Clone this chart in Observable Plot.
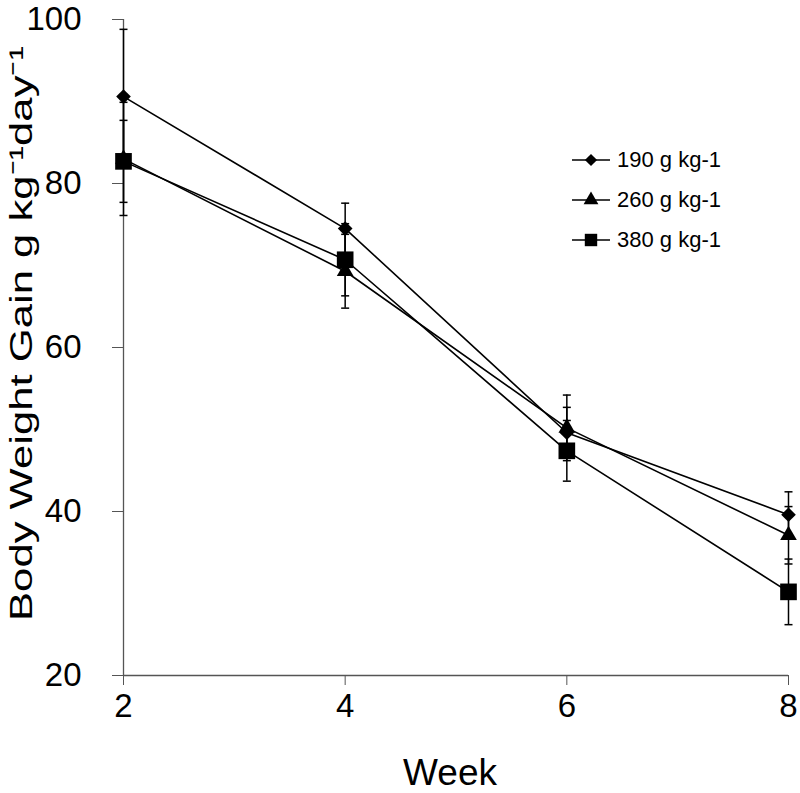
<!DOCTYPE html>
<html>
<head>
<meta charset="utf-8">
<script src="https://cdn.jsdelivr.net/npm/d3@7"></script>
<script src="https://cdn.jsdelivr.net/npm/@observablehq/plot@0.6"></script>
<style>
  html, body { margin: 0; padding: 0; background: #fff; }
  #wrap { position: relative; width: 800px; height: 793px; font-family: "Liberation Sans", Arial, sans-serif; }
  #legend { position: absolute; left: 571px; top: 140px; font-size: 22px; color: #000; }
  #legend .row { display: flex; align-items: center; height: 40px; }
  #legend svg { margin-right: 6px; }
</style>
</head>
<body>
<div id="wrap"></div>
<script>
// ---- data ----
const weeks = [2, 4, 6, 8];
const seriesNames = ["190 g kg-1", "260 g kg-1", "380 g kg-1"];
const g190 = [90.6, 74.5, 49.6, 39.6];
const g190Err = [8.2, 3.1, 3.1, 2.8];
const g260 = [83.0, 69.3, 50.2, 37.1];
const g260Err = [6.9, 4.5, 4.0, 3.5];
const g380 = [82.7, 70.7, 47.4, 30.2];
const g380Err = [5.0, 4.4, 3.7, 4.0];
const xTicks = [2, 4, 6, 8];
const yTicks = [20, 40, 60, 80, 100];
const xTitle = "Week";
const yTitle = "Body Weight Gain g kg⁻¹day⁻¹";

const symbols = {"190 g kg-1": "diamond2", "260 g kg-1": "triangle", "380 g kg-1": "square"};
const radii = {"190 g kg-1": 6.6, "260 g kg-1": 6.2, "380 g kg-1": 9.4};

const values = [g190, g260, g380];
const errs = [g190Err, g260Err, g380Err];
const rows = seriesNames.flatMap((s, k) => weeks.map((w, i) => ({
  series: s, week: w, value: values[k][i], err: errs[k][i],
  lo: values[k][i] - errs[k][i], hi: values[k][i] + errs[k][i]
})));

// horizontal cap symbol for error bars
const capSymbol = {
  draw(ctx, size) {
    const w = Math.sqrt(size / Math.PI);
    ctx.moveTo(-w, 0); ctx.lineTo(w, 0);
  }
};

const font = "Liberation Sans, Arial, sans-serif";

const chart = Plot.plot({
  width: 800,
  height: 793,
  marginLeft: 123,
  marginTop: 19,
  marginBottom: 118,
  marginRight: 12,
  style: { fontFamily: font, background: "#fff", color: "#000" },
  x: { domain: [2, 8] },
  y: { domain: [20, 100] },
  marks: [
    Plot.axisX(xTicks, { tickSize: 10, tickPadding: 8, fontSize: 33, stroke: "#555", label: null }),
    // y tick marks only
    Plot.axisY(yTicks, { tickSize: 11, tickFormat: () => "", stroke: "#555", label: null }),
    // y tick labels only
    Plot.axisY(yTicks, { tickSize: 0, dx: -33, fontSize: 33, label: null }),
    Plot.ruleX([2], { stroke: "#555", strokeWidth: 1.3 }),
    Plot.ruleY([20], { stroke: "#555", strokeWidth: 1.3 }),
    Plot.ruleX(rows, { x: "week", y1: "lo", y2: "hi", stroke: "#000", strokeWidth: 1.5 }),
    Plot.dot(rows, { x: "week", y: "lo", symbol: capSymbol, r: 4, stroke: "#000", strokeWidth: 1.5, fill: "none" }),
    Plot.dot(rows, { x: "week", y: "hi", symbol: capSymbol, r: 4, stroke: "#000", strokeWidth: 1.5, fill: "none" }),
    Plot.line(rows, { x: "week", y: "value", z: "series", stroke: "#000", strokeWidth: 1.6 }),
    ...seriesNames.map(s => Plot.dot(rows.filter(d => d.series === s), {
      x: "week", y: "value", symbol: symbols[s], r: radii[s], fill: "#000", stroke: "none"
    })),
    Plot.text([xTitle], { frameAnchor: "bottom", dx: -6, dy: 109, fontSize: 37, text: d => d, fill: "#000" }),
    Plot.text([yTitle], { frameAnchor: "left", dx: -102, dy: -14, rotate: -90, textAnchor: "middle", fontSize: 32, text: d => d, fill: "#000" })
  ]
});

// stretch the y title along its length to match the reference
d3.select(chart).selectAll("text").filter(function () { return this.textContent === yTitle; })
  .attr("textLength", 575).attr("lengthAdjust", "spacingAndGlyphs");

document.getElementById("wrap").appendChild(chart);

// legend
const legend = document.createElement("div");
legend.id = "legend";
seriesNames.forEach(s => {
  const row = document.createElement("div");
  row.className = "row";
  const svg = d3.create("svg").attr("width", 40).attr("height", 20);
  svg.append("line").attr("x1", 1).attr("x2", 39).attr("y1", 10).attr("y2", 10).attr("stroke", "#000").attr("stroke-width", 1.5);
  const symType = s === seriesNames[0] ? d3.symbolDiamond2 : s === seriesNames[1] ? d3.symbolTriangle : d3.symbolSquare;
  const rr = s === seriesNames[2] ? 7 : 5.5;
  svg.append("path").attr("transform", "translate(20,10)").attr("d", d3.symbol(symType, rr * rr * Math.PI)()).attr("fill", "#000");
  row.appendChild(svg.node());
  const span = document.createElement("span");
  span.textContent = s;
  row.appendChild(span);
  legend.appendChild(row);
});
document.getElementById("wrap").appendChild(legend);
</script>
</body>
</html>
